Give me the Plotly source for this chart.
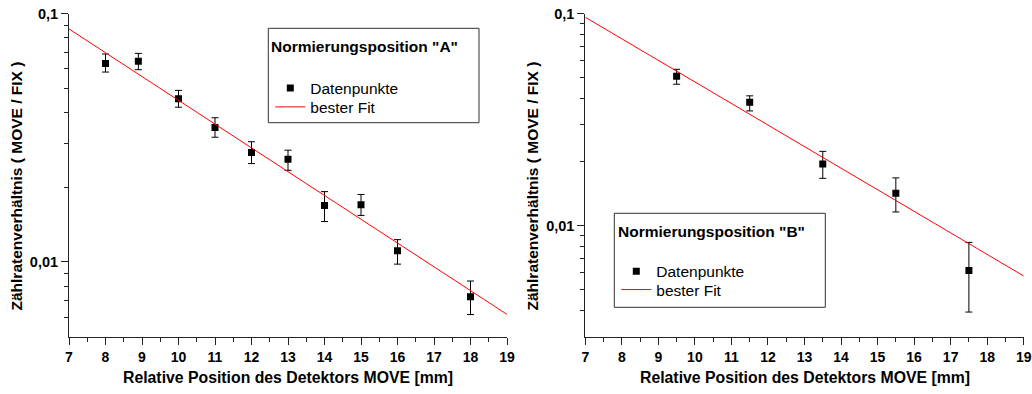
import numpy as np
import plotly.graph_objects as go

# ---------------- data ----------------
# Panel A (Normierungsposition "A")
a_x = [8, 8.9, 10, 11, 12, 13, 14, 15, 16, 18]
a_y = [0.0630, 0.0643, 0.0454, 0.0348, 0.0276, 0.0259, 0.01687, 0.0170, 0.0111, 0.00725]
a_err_plus = [0.0058, 0.0049, 0.0037, 0.0033, 0.0029, 0.0023, 0.00233, 0.0017, 0.0012, 0.00113]
a_err_minus = [0.0048, 0.0048, 0.0034, 0.0030, 0.0027, 0.0025, 0.00232, 0.0016, 0.0013, 0.00111]
a_fit_x = [7, 19]
a_fit_y = [0.0868, 0.00615]

# Panel B (Normierungsposition "B")
b_x = [9.5, 11.5, 13.5, 15.5, 17.5]
b_y = [0.0507, 0.0382, 0.01954, 0.01422, 0.00616]
b_err_plus = [0.0040, 0.0028, 0.0029, 0.0026, 0.00219]
b_err_minus = [0.0042, 0.0034, 0.0028, 0.0026, 0.00224]
b_fit_x = [7, 19]
b_fit_y = [0.0962, 0.0058]

x_ticks = list(range(7, 20))
x_tick_text = [str(v) for v in x_ticks]
y_major = [0.01, 0.1]
y_major_text = ["0,01", "0,1"]
a_y_minor = [0.006, 0.007, 0.008, 0.009, 0.02, 0.03, 0.04, 0.05, 0.06, 0.07, 0.08, 0.09]
b_y_minor = [0.004, 0.005, 0.006, 0.007, 0.008, 0.009,
             0.02, 0.03, 0.04, 0.05, 0.06, 0.07, 0.08, 0.09]

y_title = "Zählratenverhältnis ( MOVE / FIX )"
x_title = "Relative Position des Detektors MOVE [mm]"
leg_a_title = 'Normierungsposition "A"'
leg_b_title = 'Normierungsposition "B"'
name_pts = "Datenpunkte"
name_fit = "bester Fit"

# ---------------- layout helpers ----------------
W, H = 1032, 394
FONT = "Liberation Sans, Arial, sans-serif"


def px(x):
    return x / W


def py(y):
    return 1 - y / H


AXC = "#222222"
XTICKFONT = dict(family=FONT, size=14, color="black", weight="bold")
YTICKFONT = dict(family=FONT, size=14.5, color="black", weight="bold")

fig = go.Figure()

# Panel A traces
fig.add_trace(go.Scatter(
    x=a_x, y=a_y, mode="markers", name=name_pts,
    marker=dict(symbol="square", size=7, color="black"),
    error_y=dict(type="data", symmetric=False, array=a_err_plus, arrayminus=a_err_minus,
                 color="black", thickness=1, width=3.5),
    xaxis="x", yaxis="y", legend="legend"))
fig.add_trace(go.Scatter(
    x=a_fit_x, y=a_fit_y, mode="lines", name=name_fit,
    line=dict(color="#ff0000", width=1),
    xaxis="x", yaxis="y", legend="legend3"))

# Panel B traces
fig.add_trace(go.Scatter(
    x=b_x, y=b_y, mode="markers", name=name_pts,
    marker=dict(symbol="square", size=7, color="black"),
    error_y=dict(type="data", symmetric=False, array=b_err_plus, arrayminus=b_err_minus,
                 color="black", thickness=1, width=3.5),
    xaxis="x2", yaxis="y2", legend="legend2"))
fig.add_trace(go.Scatter(
    x=b_fit_x, y=b_fit_y, mode="lines", name=name_fit,
    line=dict(color="#ff0000", width=1),
    xaxis="x2", yaxis="y2", legend="legend4"))

ydom = [py(336.7), py(13.7)]


def legend(x, top):
    return dict(x=px(x), y=py(top), xanchor="left", yanchor="top",
                bgcolor="rgba(0,0,0,0)", borderwidth=0, tracegroupgap=0,
                font=dict(family=FONT, size=15.5, color="black"))


fig.update_layout(
    width=W, height=H, margin=dict(l=0, r=0, t=0, b=0),
    paper_bgcolor="white", plot_bgcolor="white",
    font=dict(family=FONT, color="black"),
    legend=legend(270.3, 71.3),
    legend3=legend(270.3, 90.3),
    legend2=legend(616.3, 254.7),
    legend4=legend(616.3, 273.0),
    showlegend=True,
)

for xa, ya, dom, yrng, yminor in [
    ("xaxis", "yaxis", [px(69), px(507)], [np.log10(0.005), -1], a_y_minor),
    ("xaxis2", "yaxis2", [px(585.3), px(1023.7)], [np.log10(0.003), -1], b_y_minor),
]:
    anchor_x = "x" if xa == "xaxis" else "x2"
    anchor_y = "y" if ya == "yaxis" else "y2"
    fig.layout[xa] = go.layout.XAxis(
        domain=dom, anchor=anchor_y, range=[7, 19], tickmode="array",
        tickvals=x_ticks, ticktext=x_tick_text,
        ticks="outside", ticklen=7, tickwidth=1, tickcolor=AXC,
        showline=True, linecolor=AXC, linewidth=1, showgrid=False, zeroline=False,
        tickfont=XTICKFONT,
        minor=dict(dtick=0.5, tick0=7, ticks="outside", ticklen=4, tickcolor=AXC,
                   tickwidth=1, showgrid=False),
        automargin=False, fixedrange=True)
    fig.layout[ya] = go.layout.YAxis(
        domain=ydom, anchor=anchor_x, type="log", range=yrng, tickmode="array",
        tickvals=y_major, ticktext=y_major_text,
        ticks="outside", ticklen=7, tickwidth=1, tickcolor=AXC,
        showline=True, linecolor=AXC, linewidth=1, showgrid=False, zeroline=False,
        tickfont=YTICKFONT,
        minor=dict(tickmode="array", tickvals=yminor, ticks="outside", ticklen=4,
                   tickcolor=AXC, tickwidth=1, showgrid=False),
        automargin=False, fixedrange=True)

# legend boxes
for (x0, x1, y0, y1) in [(268.3, 479, 28.3, 122.7), (614.3, 825.3, 213.3, 307.3)]:
    fig.add_shape(type="rect", xref="paper", yref="paper",
                  x0=px(x0), x1=px(x1), y0=py(y1), y1=py(y0),
                  line=dict(color="#333333", width=1), fillcolor="white", layer="above")

# legend titles
fig.add_annotation(text=leg_a_title, xref="paper", yref="paper", x=px(269), y=py(46),
                   xanchor="left", yanchor="middle", showarrow=False,
                   font=dict(family=FONT, size=15.5, color="black", weight="bold"))
fig.add_annotation(text=leg_b_title, xref="paper", yref="paper", x=px(615.5), y=py(231.5),
                   xanchor="left", yanchor="middle", showarrow=False,
                   font=dict(family=FONT, size=15.5, color="black", weight="bold"))

# axis titles
for cx in [287.5, 804.5]:
    fig.add_annotation(text=x_title, xref="paper", yref="paper", x=px(cx), y=py(377),
                       xanchor="center", yanchor="middle", showarrow=False,
                       font=dict(family=FONT, size=15.8, color="black", weight="bold"))
for cx in [16, 532]:
    fig.add_annotation(text=y_title, xref="paper", yref="paper", x=px(cx), y=py(186.5),
                       xanchor="center", yanchor="middle", showarrow=False, textangle=-90,
                       font=dict(family=FONT, size=15.5, color="black", weight="bold"))

fig.write_html("out.html", config={"displayModeBar": False},
               post_script="document.body.style.margin='0px';")
